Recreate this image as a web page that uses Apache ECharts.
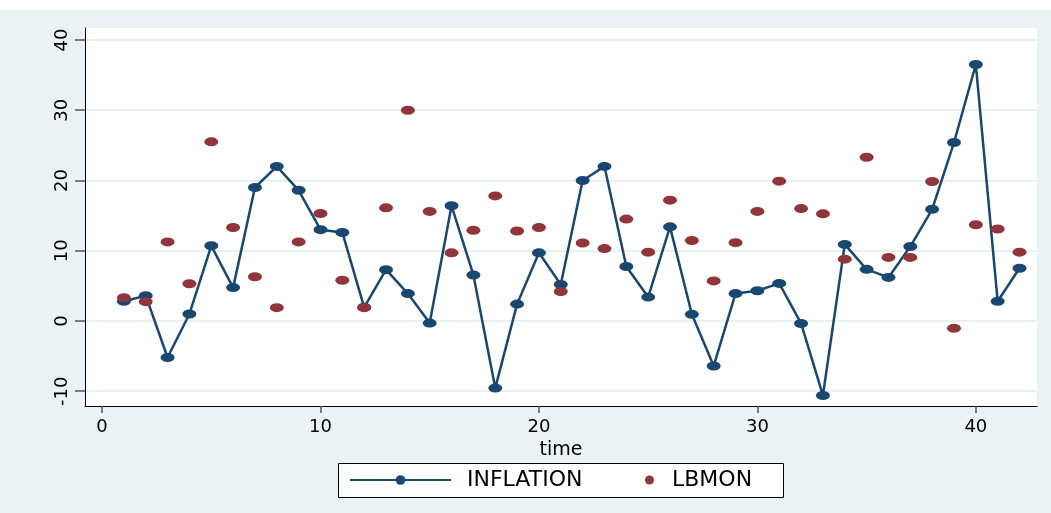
<!DOCTYPE html>
<html>
<head>
<meta charset="utf-8">
<script src="https://cdn.jsdelivr.net/npm/echarts@6/dist/echarts.min.js"></script>
<style>
  html, body { margin: 0; padding: 0; background: #fff; }
  #main { width: 1051px; height: 503px; margin-top: 10px; }
</style>
</head>
<body>
<div id="main"></div>
<script>
// time index (x axis)
var time = [1, 2, 3, 4, 5, 6, 7, 8, 9, 10, 11, 12, 13, 14, 15, 16, 17, 18, 19, 20, 21,
            22, 23, 24, 25, 26, 27, 28, 29, 30, 31, 32, 33, 34, 35, 36, 37, 38, 39, 40, 41, 42];
// INFLATION, connected line
var inflation = [2.8, 3.6, -5.2, 1.0, 10.7, 4.75, 19.0, 22.0, 18.6, 13.0, 12.6, 1.95, 7.3, 3.9,
                 -0.3, 16.4, 6.55, -9.55, 2.4, 9.7, 5.2, 20.0, 22.0, 7.75, 3.4, 13.4, 0.95, -6.4,
                 3.9, 4.3, 5.35, -0.35, -10.6, 10.9, 7.35, 6.2, 10.6, 15.9, 25.4, 36.5, 2.8, 7.5];
// LBMON, scatter only
var lbmon = [3.3, 2.75, 11.25, 5.3, 25.5, 13.3, 6.3, 1.9, 11.25, 15.3, 5.8, 1.9, 16.1, 30.0,
             15.6, 9.7, 12.9, 17.8, 12.8, 13.3, 4.2, 11.1, 10.3, 14.5, 9.8, 17.2, 11.45, 5.7,
             11.15, 15.6, 19.9, 16.0, 15.25, 8.8, 23.3, 9.05, 9.05, 19.85, -1.05, 13.7, 13.1, 9.8];
// tick labels
var xTicks = [0, 10, 20, 30, 40];
var yTicks = [-10, 0, 10, 20, 30, 40];

var navy = '#1a476f';
var maroon = '#90353b';
var font = 'DejaVu Sans';

var myChart = echarts.init(document.getElementById('main'));

myChart.setOption({
    backgroundColor: '#eaf2f3',
    animation: false,
    grid: {
        left: 85, right: 14, top: 18, bottom: 107,
        show: true, backgroundColor: '#ffffff', borderWidth: 0
    },
    xAxis: {
        type: 'value',
        min: -0.78, max: 42.8,
        name: 'time',
        nameLocation: 'middle',
        nameGap: 24,
        nameTextStyle: { fontFamily: font, fontSize: 19, color: '#000' },
        axisLine: { onZero: false, lineStyle: { color: '#000', width: 1 } },
        axisTick: { length: 7, lineStyle: { color: '#555', width: 1.5 }, customValues: xTicks },
        axisLabel: { customValues: xTicks, margin: 12, fontFamily: font, fontSize: 18, color: '#000' },
        splitLine: { show: false }
    },
    yAxis: {
        type: 'value',
        min: -12.1, max: 41.7,
        axisLine: { show: true, onZero: false, lineStyle: { color: '#000', width: 1 } },
        axisTick: { show: true, length: 10, lineStyle: { color: '#555', width: 1.5 }, customValues: yTicks },
        axisLabel: { customValues: yTicks, rotate: 90, margin: 14, fontFamily: font, fontSize: 18, color: '#000' },
        splitLine: { show: true, lineStyle: { color: '#e8f0f1', width: 2 } }
    },
    legend: [{
        data: ['INFLATION'],
        left: 349, top: 459,
        itemWidth: 101, itemHeight: 12,
        padding: 0,
        textStyle: { fontFamily: font, fontSize: 22, color: '#000', padding: [0, 0, 0, 11] }
    }, {
        data: ['LBMON'],
        left: 645, top: 459,
        itemWidth: 13, itemHeight: 9,
        padding: 0,
        textStyle: { fontFamily: font, fontSize: 22, color: '#000', padding: [0, 0, 0, 11] }
    }],
    graphic: [{
        type: 'rect',
        left: 338, top: 453,
        shape: { width: 445, height: 34 },
        style: { fill: '#fff', stroke: '#000', lineWidth: 1 },
        z: -1
    }],
    series: [{
        name: 'INFLATION',
        type: 'line',
        data: time.map(function (t, i) { return [t, inflation[i]]; }),
        symbol: 'circle',
        symbolSize: [14, 9],
        itemStyle: { color: navy, opacity: 1 },
        lineStyle: { color: navy, width: 2.5 },
        z: 2
    }, {
        name: 'LBMON',
        type: 'scatter',
        data: time.map(function (t, i) { return [t, lbmon[i]]; }),
        symbol: 'circle',
        symbolSize: [14, 9],
        itemStyle: { color: maroon, opacity: 1 },
        z: 3
    }]
});
</script>
</body>
</html>
